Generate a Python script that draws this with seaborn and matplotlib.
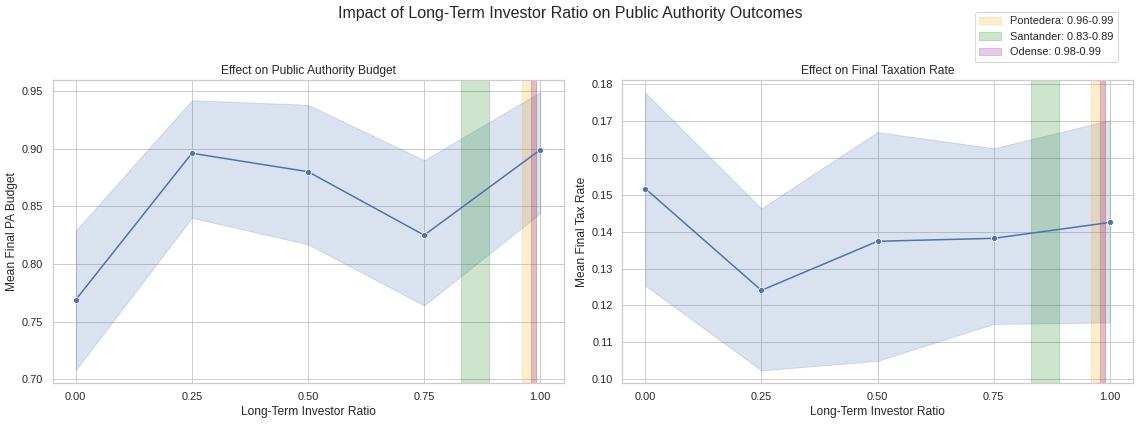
import seaborn as sns
import matplotlib.pyplot as plt
import pandas as pd

# long-term investor ratio levels
ratios = [0.0, 0.25, 0.5, 0.75, 1.0]

# public authority budget: mean and CI band
budget_mean = [0.769, 0.896, 0.880, 0.825, 0.899]
budget_low = [0.708, 0.840, 0.817, 0.764, 0.844]
budget_high = [0.829, 0.942, 0.938, 0.890, 0.949]

# final tax rate: mean and CI band
tax_mean = [0.1517, 0.1241, 0.1374, 0.1382, 0.1425]
tax_low = [0.1254, 0.1024, 0.1050, 0.1150, 0.1154]
tax_high = [0.1777, 0.1463, 0.1670, 0.1626, 0.1702]

# city ranges
cities = ['Pontedera', 'Santander', 'Odense']
city_lo = [0.96, 0.83, 0.98]
city_hi = [0.99, 0.89, 0.99]
city_colors = ['orange', 'green', 'purple']

sns.set_theme(style='whitegrid')
plt.rcParams['font.family'] = ['Liberation Sans', 'DejaVu Sans']

df = pd.DataFrame({'ratio': ratios,
                   'budget': budget_mean, 'b_lo': budget_low, 'b_hi': budget_high,
                   'tax': tax_mean, 't_lo': tax_low, 't_hi': tax_high})

fig, axes = plt.subplots(1, 2, figsize=(1140/72, 424/72), dpi=72)
color = sns.color_palette('deep')[0]

panels = [('budget', 'b_lo', 'b_hi', 'Effect on Public Authority Budget', 'Mean Final PA Budget', (0.6968, 0.9595)),
          ('tax', 't_lo', 't_hi', 'Effect on Final Taxation Rate', 'Mean Final Tax Rate', (0.0990, 0.1811))]

for ax, (col, lo, hi, title, ylabel, ylim) in zip(axes, panels):
    sns.lineplot(data=df, x='ratio', y=col, marker='o', color=color, ax=ax)
    ax.fill_between(df['ratio'], df[lo], df[hi], color=color, alpha=0.2)
    for name, a, b, c in zip(cities, city_lo, city_hi, city_colors):
        ax.axvspan(a, b, color=c, alpha=0.2, label=f'{name}: {a:.2f}-{b:.2f}')
    ax.set_title(title)
    ax.set_xlabel('Long-Term Investor Ratio')
    ax.set_ylabel(ylabel)
    ax.set_xticks(ratios)
    ax.set_xlim(-0.049, 1.05)
    ax.set_ylim(*ylim)

handles, labels = axes[0].get_legend_handles_labels()
fig.legend(handles, labels, loc='upper right', bbox_to_anchor=(1118/1140, 1 - 12/424),
           borderaxespad=0.)
fig.suptitle('Impact of Long-Term Investor Ratio on Public Authority Outcomes', fontsize=16, y=0.985)
fig.subplots_adjust(left=53/1140, right=1133/1140, top=1 - 80/424, bottom=41/424, wspace=0.1155)
fig.savefig('out.png', dpi=72)
